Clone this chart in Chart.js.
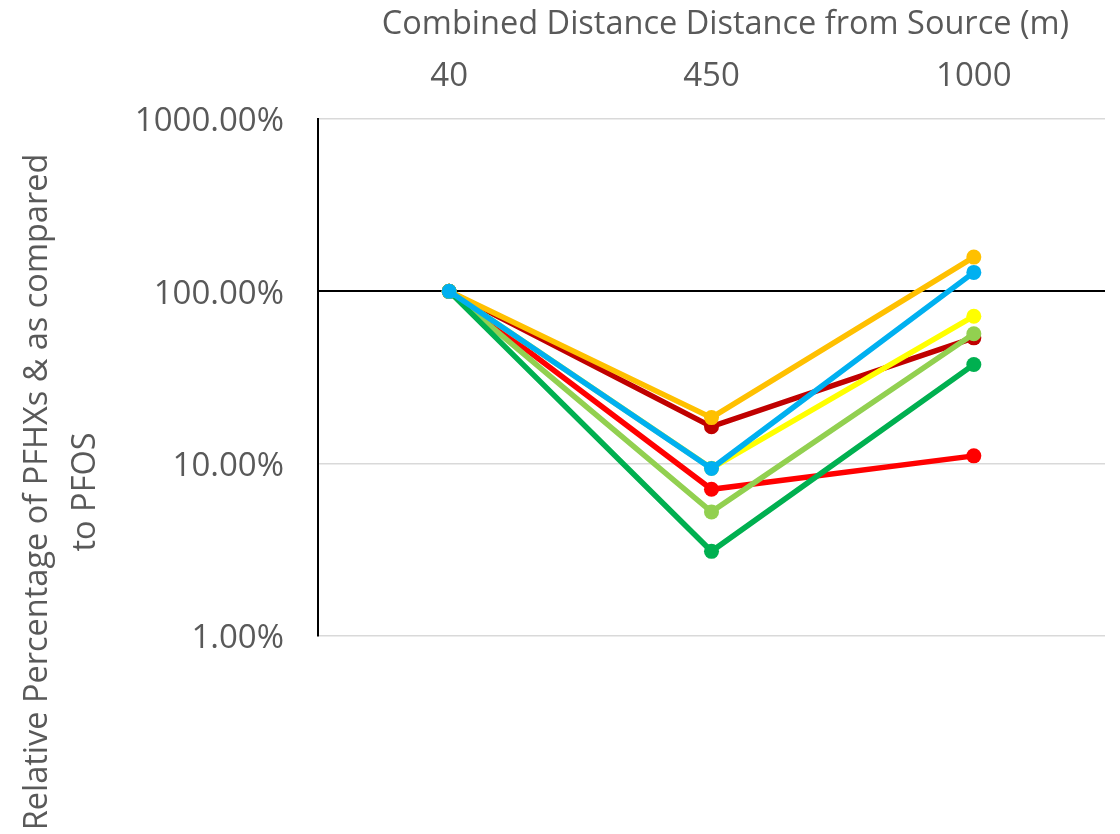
<!DOCTYPE html>
<html>
<head>
<meta charset="utf-8">
<script src="https://cdn.jsdelivr.net/npm/chart.js@4"></script>
<style>
  html, body { margin: 0; padding: 0; background: #ffffff; }
  #wrap { width: 1120px; height: 834px; position: relative; }
</style>
</head>
<body>
<div id="wrap"><canvas id="chart" width="1120" height="834"></canvas></div>
<script>
// Distance categories (m) along the top axis
const distances = ['40', '450', '1000'];

// Relative percentage of PFHxS vs PFOS, per sampling series (%)
const seriesDarkRed   = [100, 16.4, 53.7];
const seriesRed       = [100, 7.1, 11.1];
const seriesYellow    = [100, 9.4, 71.7];
const seriesLightGrn  = [100, 5.25, 56.7];
const seriesGreen     = [100, 3.1, 37.6];
const seriesOrange    = [100, 18.5, 158];
const seriesBlue      = [100, 9.37, 128.8];

// Log axis tick values and labels
const yTickValues = [1, 10, 100, 1000];
const yTickLabels = ['1.00%', '10.00%', '100.00%', '1000.00%'];

const xTitle = 'Combined Distance Distance from Source (m)';
const yTitleLines = ['Relative Percentage of PFHXs & as compared', 'to PFOS'];

const textColor = '#595959';
const fontFamily = '"Open Sans", "Liberation Sans", sans-serif';

function series(data, color) {
  return {
    data: data,
    borderColor: color,
    backgroundColor: color,
    pointBackgroundColor: color,
    pointBorderColor: color,
    borderWidth: 5.5,
    pointRadius: 7.5,
    pointBorderWidth: 0,
    pointHoverRadius: 7.5,
    tension: 0,
    fill: false
  };
}

// First dataset is painted on top in Chart.js, so list top-most first
const datasets = [
  series(seriesBlue, '#00B0F0'),
  series(seriesOrange, '#FFC000'),
  series(seriesGreen, '#00B050'),
  series(seriesLightGrn, '#92D050'),
  series(seriesYellow, '#FFFF00'),
  series(seriesRed, '#FF0000'),
  series(seriesDarkRed, '#C00000')
];

// Axis titles drawn as rotated / centred text around the plot
const titlesPlugin = {
  id: 'axisTitles',
  afterDraw(chart) {
    const ctx = chart.ctx;
    const area = chart.chartArea;
    ctx.save();
    ctx.fillStyle = textColor;
    ctx.font = '32.5px ' + fontFamily;
    ctx.textAlign = 'center';
    ctx.textBaseline = 'middle';
    ctx.fillText(xTitle, (area.left + area.right) / 2 + 14, 25);

    ctx.translate(0, 492);
    ctx.rotate(-Math.PI / 2);
    ctx.fillText(yTitleLines[0], 0, 38);
    ctx.fillText(yTitleLines[1], 0, 86);
    ctx.restore();
  }
};

new Chart(document.getElementById('chart'), {
  type: 'line',
  data: { labels: distances, datasets: datasets },
  options: {
    responsive: false,
    animation: false,
    events: [],
    layout: { padding: { left: 0, right: 15, top: 0, bottom: 198 } },
    plugins: {
      legend: { display: false },
      tooltip: { enabled: false }
    },
    scales: {
      x: {
        position: 'top',
        offset: true,
        grid: { display: false, drawTicks: false },
        border: { display: false },
        ticks: {
          color: textColor,
          font: { family: fontFamily, size: 33 },
          padding: 23
        },
        afterFit(scale) { scale.height = 119; }
      },
      y: {
        type: 'logarithmic',
        min: 1,
        max: 1000,
        afterBuildTicks(scale) {
          scale.ticks = yTickValues.map(v => ({ value: v }));
        },
        afterFit(scale) { scale.width = 318; },
        ticks: {
          color: textColor,
          font: { family: fontFamily, size: 33 },
          padding: 34,
          labelOffset: 3,
          callback(value) {
            const i = yTickValues.indexOf(value);
            return i >= 0 ? yTickLabels[i] : '';
          }
        },
        grid: {
          drawTicks: false,
          color(ctx) { return ctx.tick && ctx.tick.value === 100 ? '#000000' : '#d9d9d9'; },
          lineWidth(ctx) { return ctx.tick && ctx.tick.value === 100 ? 2 : 1.5; }
        },
        border: { display: true, color: '#000000', width: 2 }
      }
    }
  },
  plugins: [titlesPlugin]
});
</script>
</body>
</html>
